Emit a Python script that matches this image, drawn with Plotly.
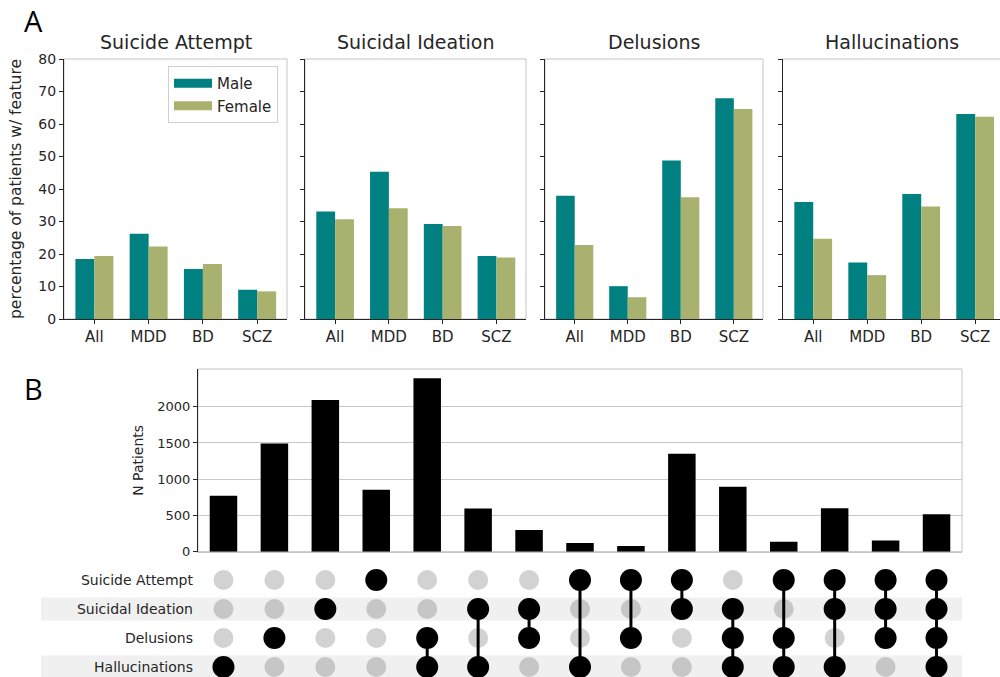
import plotly.graph_objects as go

# ---------------- data ----------------
groups = ["All", "MDD", "BD", "SCZ"]
features = ["Suicide Attempt", "Suicidal Ideation", "Delusions", "Hallucinations"]
male_pct = {
    "Suicide Attempt": [18.5, 26.2, 15.4, 9.0],
    "Suicidal Ideation": [33.1, 45.3, 29.2, 19.4],
    "Delusions": [37.9, 10.1, 48.8, 67.9],
    "Hallucinations": [36.0, 17.4, 38.5, 63.1],
}
female_pct = {
    "Suicide Attempt": [19.4, 22.3, 16.9, 8.5],
    "Suicidal Ideation": [30.7, 34.1, 28.6, 18.9],
    "Delusions": [22.8, 6.7, 37.5, 64.6],
    "Hallucinations": [24.7, 13.5, 34.6, 62.2],
}
combos = [
    ["Hallucinations"],
    ["Delusions"],
    ["Suicidal Ideation"],
    ["Suicide Attempt"],
    ["Delusions", "Hallucinations"],
    ["Suicidal Ideation", "Hallucinations"],
    ["Suicidal Ideation", "Delusions"],
    ["Suicide Attempt", "Hallucinations"],
    ["Suicide Attempt", "Delusions"],
    ["Suicide Attempt", "Suicidal Ideation"],
    ["Suicidal Ideation", "Delusions", "Hallucinations"],
    ["Suicide Attempt", "Delusions", "Hallucinations"],
    ["Suicide Attempt", "Suicidal Ideation", "Hallucinations"],
    ["Suicide Attempt", "Suicidal Ideation", "Delusions"],
    ["Suicide Attempt", "Suicidal Ideation", "Delusions", "Hallucinations"],
]
combo_counts = [772, 1494, 2092, 855, 2391, 595, 299, 120, 78, 1352, 897, 138, 598, 156, 515]
count_ticks = [0, 500, 1000, 1500, 2000]

# ---------------- styles ----------------
MALE_C = "#008080"
FEMALE_C = "#a8b26e"
DARK = "#262626"
FRAME = "#c4c4c4"
FONT = "DejaVu Sans"
W, H = 1000, 677


def px_x(p):
    return p / W


def px_y(p):
    return 1 - p / H


fig = go.Figure()

a_xdom = [(64, 287), (305, 526), (545, 763), (783, 1000)]
a_xrng = [[-0.56, 3.55], [-0.56, 3.55], [-0.56, 3.55], [-0.56, 3.46]]
a_ydom = [px_y(319), px_y(59)]

for i, feat in enumerate(features):
    n = "" if i == 0 else str(i + 1)
    fig.add_trace(go.Bar(x=groups, y=male_pct[feat], name="Male", marker_color=MALE_C,
                         marker_line_width=0, showlegend=False,
                         xaxis="x" + n, yaxis="y" + n))
    fig.add_trace(go.Bar(x=groups, y=female_pct[feat], name="Female", marker_color=FEMALE_C,
                         marker_line_width=0, showlegend=False,
                         xaxis="x" + n, yaxis="y" + n))
    x0, x1 = a_xdom[i]
    fig.layout["xaxis" + n] = dict(
        domain=[px_x(x0), px_x(x1)], anchor="y" + n, type="category",
        range=a_xrng[i], showline=True, linecolor=DARK, linewidth=1,
        ticks="outside", ticklen=4, tickcolor=DARK, showgrid=False, automargin=False,
        tickfont=dict(family=FONT, size=15, color=DARK), fixedrange=True)
    fig.layout["yaxis" + n] = dict(
        domain=a_ydom, anchor="x" + n, range=[0, 80], dtick=10,
        showline=True, linecolor=DARK, linewidth=1, ticks="outside", ticklen=4,
        tickcolor=DARK, showgrid=False, zeroline=False, showticklabels=(i == 0),
        automargin=False, tickfont=dict(family=FONT, size=14, color=DARK))
    if i < 3:
        fig.add_shape(type="rect", xref=f"x{n} domain", yref=f"y{n} domain",
                      x0=0, x1=1, y0=0, y1=1, line=dict(color=FRAME, width=1), layer="below")
    else:
        fig.add_shape(type="line", xref=f"x{n} domain", yref=f"y{n} domain",
                      x0=0, x1=1, y0=1, y1=1, line=dict(color=FRAME, width=1), layer="below")
    fig.add_annotation(text=feat, xref=f"x{n} domain", yref="paper", x=0.5, y=px_y(42),
                       showarrow=False, font=dict(family=FONT, size=19, color=DARK),
                       xanchor="center", yanchor="middle")

fig.layout.yaxis.title = dict(text="percentage of patients w/ feature",
                              font=dict(family=FONT, size=15.5, color=DARK), standoff=12)

# legend keys (wide patches like the reference)
fig.add_trace(go.Scatter(x=[None], y=[None], mode="lines", name="Male",
                         line=dict(color=MALE_C, width=9), xaxis="x", yaxis="y"))
fig.add_trace(go.Scatter(x=[None], y=[None], mode="lines", name="Female",
                         line=dict(color=FEMALE_C, width=9), xaxis="x", yaxis="y"))

# ---------------- panel B bars ----------------
xs = list(range(len(combo_counts)))
fig.add_trace(go.Bar(x=xs, y=combo_counts, marker_color="black", marker_line_width=0,
                     width=0.54, showlegend=False, xaxis="x5", yaxis="y5"))
bx0, bx1 = 198, 962
fig.layout.xaxis5 = dict(domain=[px_x(bx0), px_x(bx1)], anchor="y5", range=[-0.5, 14.5],
                         showticklabels=False, ticks="", showgrid=False, zeroline=False,
                         showline=True, linecolor=FRAME, automargin=False)
fig.layout.yaxis5 = dict(domain=[px_y(551.7), px_y(369)], anchor="x5", range=[0, 2520],
                         tickmode="array", tickvals=count_ticks,
                         showgrid=True, gridcolor="#c8c8c8", gridwidth=1,
                         zeroline=False, showline=True, linecolor=DARK, ticks="outside",
                         ticklen=4, tickcolor=DARK, automargin=False,
                         tickfont=dict(family=FONT, size=13, color=DARK),
                         title=dict(text="N Patients", font=dict(family=FONT, size=14, color=DARK),
                                    standoff=10))
fig.add_shape(type="rect", xref="x5 domain", yref="y5 domain", x0=0, x1=1, y0=0, y1=1,
              line=dict(color=FRAME, width=1), layer="below")

# ---------------- panel B matrix ----------------
row_pos = {f: len(features) - 1 - k for k, f in enumerate(features)}
shaded = ["Suicidal Ideation", "Hallucinations"]
for f in shaded:
    r = row_pos[f]
    fig.add_shape(type="rect", xref="paper", yref="y6", x0=px_x(41), x1=px_x(962),
                  y0=r - 0.4, y1=r + 0.4, fillcolor="#f0f0f0", line_width=0, layer="below")

for f in features:
    r = row_pos[f]
    inact = [c for c, m in enumerate(combos) if f not in m]
    fig.add_trace(go.Scatter(x=inact, y=[r] * len(inact), mode="markers",
                             marker=dict(size=20, color="#c6c6c6" if f in shaded else "#d2d2d2",
                                         line_width=0),
                             showlegend=False, hoverinfo="skip", xaxis="x6", yaxis="y6"))
for c, m in enumerate(combos):
    rows = [row_pos[f] for f in m]
    if len(rows) > 1:
        fig.add_trace(go.Scatter(x=[c, c], y=[min(rows), max(rows)], mode="lines",
                                 line=dict(color="black", width=3),
                                 showlegend=False, hoverinfo="skip", xaxis="x6", yaxis="y6"))
act_x = [c for c, m in enumerate(combos) for f in m]
act_y = [row_pos[f] for m in combos for f in m]
fig.add_trace(go.Scatter(x=act_x, y=act_y, mode="markers",
                         marker=dict(size=22, color="black", line_width=0),
                         showlegend=False, hoverinfo="skip", xaxis="x6", yaxis="y6"))
fig.layout.xaxis6 = dict(domain=[px_x(bx0), px_x(bx1)], anchor="y6", range=[-0.5, 14.5],
                         visible=False, automargin=False)
fig.layout.yaxis6 = dict(domain=[0, px_y(562)], anchor="x6", range=[-0.345, 3.62],
                         tickvals=[row_pos[f] for f in features], ticktext=features,
                         showgrid=False, zeroline=False, showline=False, ticks="",
                         ticklabelstandoff=4, automargin=False,
                         tickfont=dict(family=FONT, size=14, color=DARK))

# panel letters
fig.add_annotation(text="A", xref="paper", yref="paper", x=px_x(33), y=px_y(21),
                   xanchor="center", yanchor="middle",
                   showarrow=False, font=dict(family="Open Sans", size=29, color="black"))
fig.add_annotation(text="B", xref="paper", yref="paper", x=px_x(33), y=px_y(388),
                   xanchor="center", yanchor="middle",
                   showarrow=False, font=dict(family="Open Sans", size=29, color="black"))

fig.update_layout(
    width=W, height=H, margin=dict(l=0, r=0, t=0, b=0, autoexpand=False),
    paper_bgcolor="white", plot_bgcolor="white",
    barmode="group", bargap=0.3, bargroupgap=0,
    legend=dict(x=px_x(278), y=px_y(66), xanchor="right", yanchor="top",
                bordercolor="#d0d0d0", borderwidth=1, bgcolor="white",
                tracegroupgap=0, itemwidth=38,
                font=dict(family=FONT, size=15, color=DARK)),
    font=dict(family=FONT, color=DARK),
)

fig.write_html("out.html", config={"displayModeBar": False},
               post_script="document.body.style.margin='0';document.body.style.overflow='hidden';")
